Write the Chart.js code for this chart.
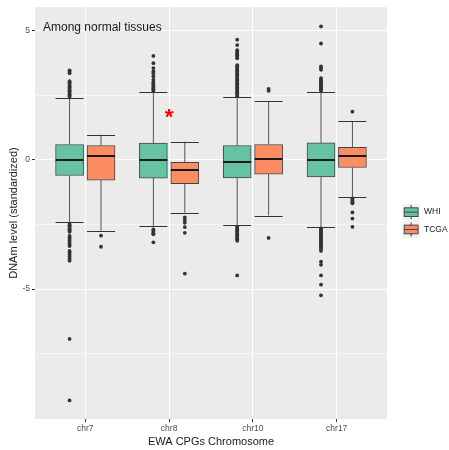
<!DOCTYPE html>
<html>
<head>
<meta charset="utf-8">
<script src="https://cdn.jsdelivr.net/npm/chart.js@4/dist/chart.umd.min.js"></script>
<style>
  html, body { margin: 0; padding: 0; background: #fff; }
  #wrap { width: 449px; height: 450px; }
</style>
</head>
<body>
<div id="wrap"><canvas id="boxChart" width="449" height="450"></canvas></div>
<script>
// Categories and groups
const chromosomes = ['chr7', 'chr8', 'chr10', 'chr17'];
const groups = ['WHI', 'TCGA'];
const groupColors = ['#66C2A5', '#FC8D62'];

// Box statistics, one value per chromosome
const whiLow  = [-2.40, -2.56, -2.53, -2.60];
const whiQ1   = [-0.60, -0.70, -0.69, -0.66];
const whiMed  = [ 0.00,  0.00, -0.09,  0.00];
const whiQ3   = [ 0.60,  0.65,  0.56,  0.66];
const whiHigh = [ 2.40,  2.63,  2.44,  2.63];

const tcgaLow  = [-2.74, -2.04, -2.15, -1.44];
const tcgaQ1   = [-0.78, -0.92, -0.55, -0.29];
const tcgaMed  = [ 0.16, -0.39,  0.04,  0.14];
const tcgaQ3   = [ 0.56, -0.09,  0.60,  0.49];
const tcgaHigh = [ 0.98,  0.71,  2.28,  1.50];

// Outliers, one list per chromosome
const whiOutliers = [
  [2.45, 2.5, 2.55, 2.6, 2.65, 2.7, 2.75, 2.8, 2.85, 2.9, 2.95, 3.0, 3.05, 3.36, 3.42, 3.47,
   -2.48, -2.53, -2.58, -2.63, -2.68, -2.73, -2.78, -2.94, -3.0, -3.06, -3.12, -3.2, -3.27, -3.33,
   -3.52, -3.58, -3.66, -3.74, -3.82, -3.9, -6.93, -9.31],
  [2.68, 2.72, 2.76, 2.81, 2.86, 2.9, 2.94, 2.98, 3.02, 3.11, 3.24, 3.36, 3.43, 3.56, 3.75, 4.03,
   -2.69, -2.74, -2.79, -2.84, -2.88, -3.19],
  [2.47, 2.52, 2.57, 2.62, 2.67, 2.72, 2.77, 2.82, 2.87, 2.92, 2.97, 3.02, 3.07, 3.12, 3.17, 3.22,
   3.27, 3.32, 3.37, 3.42, 3.47, 3.52, 3.57, 3.62, 3.67, 3.94, 3.99, 4.04, 4.09, 4.14, 4.19, 4.25,
   4.45, 4.66,
   -2.58, -2.63, -2.68, -2.73, -2.78, -2.83, -2.88, -2.93, -2.98, -3.03, -3.08, -3.13, -4.47],
  [2.69, 2.73, 2.79, 2.84, 2.88, 2.92, 2.97, 3.01, 3.05, 3.11, 3.17, 3.49, 3.56, 3.62, 4.51, 5.17,
   -2.65, -2.7, -2.75, -2.8, -2.85, -2.9, -2.95, -3.0, -3.05, -3.1, -3.15, -3.2, -3.25, -3.3,
   -3.35, -3.4, -3.45, -3.52, -3.94, -4.06, -4.47, -4.83, -5.24]
];
const tcgaOutliers = [
  [-2.93, -3.36],
  [-2.22, -2.32, -2.43, -2.6, -2.82, -4.40],
  [2.68, 2.75, -3.02],
  [1.87, -1.49, -1.54, -1.59, -1.64, -1.68, -2.03, -2.27, -2.59]
];

// Tick values
const yTickValues = [-7.5, -5, -2.5, 0, 2.5, 5];
const yLabelValues = [-5, 0, 5];

// Annotations
const annotationText = 'Among normal tissues';
const starLabel = '*';
const starValue = 1.69;

const stats = [
  { low: whiLow, q1: whiQ1, med: whiMed, q3: whiQ3, high: whiHigh, out: whiOutliers },
  { low: tcgaLow, q1: tcgaQ1, med: tcgaMed, q3: tcgaQ3, high: tcgaHigh, out: tcgaOutliers }
];

const dodge = [-0.1875, 0.1875];
const boxHalf = 0.167;
const FONT = "'Liberation Sans', Arial, sans-serif";

function boxData(g) {
  return chromosomes.map((c, i) => ({ x: i + 1 + dodge[g], y: [stats[g].q1[i], stats[g].q3[i]] }));
}

function outlierData(g) {
  const pts = [];
  chromosomes.forEach((c, i) => {
    stats[g].out[i].forEach(v => pts.push({ x: i + 1 + dodge[g], y: v }));
  });
  return pts;
}

// Grey panel background
const panelBg = {
  id: 'panelBg',
  beforeDraw(chart) {
    const { ctx, chartArea: a } = chart;
    ctx.save();
    ctx.fillStyle = '#EBEBEB';
    ctx.fillRect(a.left, a.top, a.right - a.left, a.bottom - a.top);
    ctx.restore();
  }
};

// Whiskers, caps, medians
const boxParts = {
  id: 'boxParts',
  beforeDatasetsDraw(chart) {
    const { ctx, scales: { x, y } } = chart;
    const half = x.getPixelForValue(boxHalf) - x.getPixelForValue(0);
    ctx.save();
    ctx.lineWidth = 1;
    stats.forEach((s, g) => {
      chromosomes.forEach((c, i) => {
        const cx = x.getPixelForValue(i + 1 + dodge[g]);
        ctx.strokeStyle = '#555555';
        ctx.beginPath();
        ctx.moveTo(cx, y.getPixelForValue(s.low[i]));
        ctx.lineTo(cx, y.getPixelForValue(s.q1[i]));
        ctx.moveTo(cx, y.getPixelForValue(s.q3[i]));
        ctx.lineTo(cx, y.getPixelForValue(s.high[i]));
        ctx.stroke();
        ctx.strokeStyle = '#333333';
        ctx.beginPath();
        ctx.moveTo(cx - half, Math.round(y.getPixelForValue(s.low[i])) + 0.5);
        ctx.lineTo(cx + half, Math.round(y.getPixelForValue(s.low[i])) + 0.5);
        ctx.moveTo(cx - half, Math.round(y.getPixelForValue(s.high[i])) + 0.5);
        ctx.lineTo(cx + half, Math.round(y.getPixelForValue(s.high[i])) + 0.5);
        ctx.stroke();
      });
    });
    ctx.restore();
  },
  afterDatasetsDraw(chart) {
    const { ctx, scales: { x, y } } = chart;
    const half = x.getPixelForValue(boxHalf) - x.getPixelForValue(0);
    ctx.save();
    ctx.lineWidth = 2;
    ctx.strokeStyle = '#1a1a1a';
    stats.forEach((s, g) => {
      chromosomes.forEach((c, i) => {
        const cx = x.getPixelForValue(i + 1 + dodge[g]);
        const my = Math.round(y.getPixelForValue(s.med[i]));
        ctx.beginPath();
        ctx.moveTo(cx - half, my);
        ctx.lineTo(cx + half, my);
        ctx.stroke();
      });
    });

    // text annotations
    ctx.fillStyle = '#1a1a1a';
    ctx.font = '12px ' + FONT;
    ctx.textAlign = 'left';
    ctx.textBaseline = 'alphabetic';
    ctx.fillText(annotationText, x.getPixelForValue(0.495), y.getPixelForValue(4.99));

    const starSize = 22;
    ctx.fillStyle = '#FF0000';
    ctx.font = 'bold ' + starSize + 'px ' + FONT;
    ctx.textAlign = 'center';
    ctx.fillText(starLabel, x.getPixelForValue(2), y.getPixelForValue(starValue) + 0.36 * starSize);
    ctx.restore();
  }
};

// ggplot style legend on the right
const sideLegend = {
  id: 'sideLegend',
  afterDraw(chart) {
    const { ctx } = chart;
    const key = 17.3;
    const left = 402.5;
    const tops = [203.5, 220.8];
    ctx.save();
    groups.forEach((name, g) => {
      const t = tops[g];
      ctx.fillStyle = '#F2F2F2';
      ctx.fillRect(left, t, key, key);
      const cx = left + key / 2;
      ctx.strokeStyle = '#333333';
      ctx.lineWidth = 1;
      ctx.beginPath();
      ctx.moveTo(cx, t + key * 0.1);
      ctx.lineTo(cx, t + key * 0.9);
      ctx.stroke();
      ctx.fillStyle = groupColors[g];
      const bx = left + key * 0.1, by = t + key * 0.25, bw = key * 0.8, bh = key * 0.5;
      ctx.fillRect(bx, by, bw, bh);
      ctx.strokeStyle = '#444444';
      ctx.strokeRect(bx, by, bw, bh);
      ctx.beginPath();
      ctx.moveTo(bx, t + key / 2);
      ctx.lineTo(bx + bw, t + key / 2);
      ctx.stroke();
      ctx.fillStyle = '#1a1a1a';
      ctx.font = '8.5px ' + FONT;
      ctx.textAlign = 'left';
      ctx.textBaseline = 'middle';
      ctx.fillText(name, 424, t + key / 2);
    });
    ctx.restore();
  }
};

function initChart() {
  const ctx = document.getElementById('boxChart').getContext('2d');
  const datasets = [];
  groups.forEach((name, g) => {
    datasets.push({
      type: 'bar',
      label: name,
      data: boxData(g),
      backgroundColor: groupColors[g],
      borderColor: '#444444',
      borderWidth: 1,
      borderSkipped: false,
      barThickness: 28,
      grouped: false
    });
  });
  groups.forEach((name, g) => {
    datasets.push({
      type: 'scatter',
      label: name + ' outliers',
      data: outlierData(g),
      backgroundColor: '#333333',
      borderWidth: 0,
      pointRadius: 1.9
    });
  });

  new Chart(ctx, {
    type: 'bar',
    data: { datasets },
    options: {
      responsive: false,
      animation: false,
      layout: { padding: { top: 3, right: 62, left: 0, bottom: 0 } },
      plugins: {
        legend: { display: false },
        tooltip: { enabled: false }
      },
      scales: {
        x: {
          type: 'linear',
          min: 0.4,
          max: 4.6,
          offset: false,
          afterBuildTicks: (scale) => {
            scale.ticks = chromosomes.map((c, i) => ({ value: i + 1 }));
          },
          afterFit: (scale) => { scale.height = 31; },
          grid: {
            offset: false,
            color: '#FFFFFF',
            lineWidth: 1,
            tickLength: 3,
            tickColor: '#333333'
          },
          border: { display: false },
          ticks: {
            autoSkip: false,
            maxRotation: 0,
            padding: 2,
            color: '#4D4D4D',
            font: { family: FONT, size: 8.5 },
            callback: (v) => chromosomes[Math.round(v) - 1]
          },
          title: {
            display: true,
            text: 'EWA CPGs Chromosome',
            color: '#1a1a1a',
            font: { family: FONT, size: 11 },
            padding: { top: 0, bottom: 1.7 }
          }
        },
        y: {
          min: -10.03,
          max: 5.92,
          afterBuildTicks: (scale) => {
            scale.ticks = yTickValues.map(v => ({ value: v }));
          },
          afterFit: (scale) => { scale.width = 35; },
          grid: {
            color: '#FFFFFF',
            lineWidth: (c) => (yLabelValues.includes(c.tick.value) ? 1 : 0.5),
            tickLength: 3,
            tickColor: (c) => (yLabelValues.includes(c.tick.value) ? '#333333' : 'rgba(0,0,0,0)')
          },
          border: { display: false },
          ticks: {
            autoSkip: false,
            padding: 2,
            color: '#4D4D4D',
            font: { family: FONT, size: 8.5 },
            callback: (v) => (yLabelValues.includes(v) ? String(v) : '')
          },
          title: {
            display: true,
            text: 'DNAm level (standardized)',
            color: '#1a1a1a',
            font: { family: FONT, size: 11 },
            padding: { top: 7, bottom: 0 }
          }
        }
      }
    },
    plugins: [panelBg, boxParts, sideLegend]
  });
}

document.addEventListener('DOMContentLoaded', () => {
  initChart();
});
</script>
</body>
</html>
